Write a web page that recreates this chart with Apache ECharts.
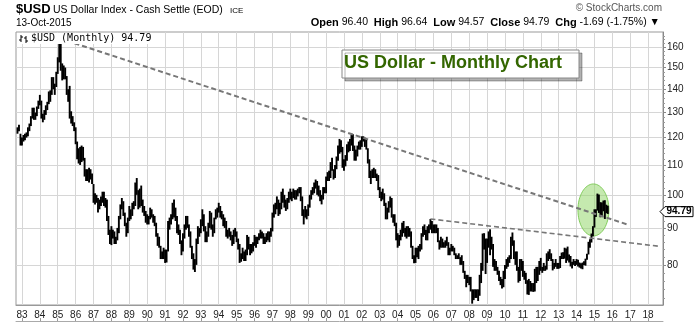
<!DOCTYPE html>
<html>
<head>
<meta charset="utf-8">
<script src="https://cdn.jsdelivr.net/npm/echarts@6/dist/echarts.min.js"></script>
<style>
  html, body { margin: 0; padding: 0; background: #fff; }
  #main { width: 700px; height: 322px; }
</style>
</head>
<body>
<div id="main"></div>
<script>
// US Dollar Index, monthly bars (high / low), Oct 1982 - Oct 2015
const firstMonth = '1982-10';

const monthlyHigh = [
  124.0, 125.0, 121.5,                                                            // 1982 Oct-Dec
  120.0, 121.0, 121.5, 122.0, 124.0, 125.5, 128.5, 132.0, 132.0, 130.0, 132.5, 135.0, // 1983
  137.5, 135.0, 129.5, 131.0, 133.0, 134.5, 139.0, 139.5, 145.5, 145.5, 142.5, 148.0, // 1984
  155.0, 164.7, 163.0, 152.0, 151.0, 150.0, 146.0, 140.0, 141.5, 130.5, 128.5, 126.0, // 1985
  124.0, 118.5, 116.0, 116.5, 117.0, 116.5, 112.5, 108.5, 108.5, 109.0, 108.5, 107.0, // 1986
  103.5, 100.5, 100.0, 99.0, 98.5, 99.5, 101.0, 101.0, 99.0, 98.5, 93.5, 89.5,       // 1987
  90.5, 89.5, 89.0, 87.5, 90.0, 93.5, 97.0, 99.0, 98.0, 94.5, 91.5, 93.0,            // 1988
  96.5, 95.5, 97.5, 98.0, 104.0, 105.5, 101.5, 102.0, 103.0, 98.5, 96.5, 95.0,       // 1989
  94.0, 93.5, 96.0, 95.5, 94.0, 93.5, 91.5, 88.5, 87.5, 85.0, 83.5, 84.5,            // 1990
  84.0, 84.0, 92.0, 93.0, 94.0, 97.5, 98.5, 96.0, 93.5, 91.0, 89.5, 86.5,            // 1991
  88.5, 91.0, 93.5, 93.5, 91.0, 89.0, 85.0, 83.0, 81.5, 87.0, 90.5, 90.0,            // 1992
  92.5, 95.5, 94.0, 90.5, 89.0, 91.5, 95.0, 94.5, 91.0, 93.0, 95.5, 96.0,            // 1993
  97.5, 96.5, 95.0, 94.0, 93.0, 92.0, 89.5, 90.0, 89.0, 88.0, 89.5, 90.0,            // 1994
  89.0, 87.0, 85.5, 83.0, 84.5, 83.5, 84.0, 88.0, 87.5, 85.5, 85.5, 86.0,            // 1995
  88.0, 87.5, 87.5, 88.5, 89.5, 89.0, 88.5, 87.5, 88.5, 89.0, 89.0, 90.0,            // 1996
  94.5, 97.0, 97.5, 99.5, 98.5, 97.5, 101.0, 102.0, 100.0, 98.5, 99.0, 101.0,        // 1997
  102.0, 101.0, 102.0, 101.5, 101.5, 102.0, 102.5, 102.5, 99.5, 95.5, 96.5, 95.5,    // 1998
  97.0, 100.0, 101.5, 102.5, 104.0, 105.0, 104.5, 103.0, 101.5, 100.0, 102.5, 102.5, // 1999
  106.0, 107.5, 108.0, 111.0, 112.5, 108.5, 110.0, 113.0, 117.0, 119.5, 119.0, 116.5, // 2000
  112.0, 113.5, 117.5, 118.5, 119.5, 121.0, 121.3, 117.0, 115.5, 117.0, 118.5, 119.0, // 2001
  120.5, 120.5, 120.0, 119.5, 116.0, 112.0, 108.0, 108.5, 109.0, 108.5, 107.0, 106.5, // 2002
  102.5, 101.0, 102.0, 100.5, 97.5, 96.0, 98.0, 99.5, 99.0, 94.0, 94.0, 91.5,        // 2003
  88.5, 88.0, 89.5, 91.5, 92.0, 90.0, 90.5, 90.5, 90.0, 89.0, 85.0, 82.5,            // 2004
  84.5, 84.5, 85.0, 85.5, 88.5, 90.5, 91.0, 89.5, 90.5, 91.0, 92.6, 92.0,            // 2005
  91.0, 91.0, 91.0, 90.0, 86.5, 87.5, 87.0, 86.0, 86.5, 87.5, 86.0, 84.5,            // 2006
  85.5, 85.0, 84.5, 83.0, 82.5, 83.0, 82.0, 82.5, 81.0, 78.5, 77.5, 77.5,            // 2007
  77.0, 77.0, 74.0, 74.0, 74.0, 74.0, 74.0, 77.5, 80.5, 88.4, 88.5, 87.0,            // 2008
  87.0, 89.0, 89.6, 87.5, 85.5, 81.5, 81.0, 79.5, 78.5, 77.0, 76.5, 78.5,            // 2009
  80.0, 81.5, 82.0, 82.5, 87.5, 88.7, 86.5, 83.5, 83.5, 79.5, 81.5, 81.5,            // 2010
  81.0, 78.5, 78.0, 76.2, 76.5, 76.0, 75.5, 75.5, 79.0, 79.5, 79.5, 81.0,            // 2011
  81.8, 79.5, 80.5, 79.8, 83.0, 83.5, 84.1, 83.0, 81.5, 80.5, 81.5, 80.5,            // 2012
  80.5, 82.3, 83.2, 83.3, 84.5, 84.3, 84.8, 82.7, 82.3, 80.8, 81.5, 81.0,            // 2013
  81.5, 81.3, 80.6, 80.4, 80.6, 80.9, 81.6, 82.9, 86.1, 86.8, 88.4, 90.5,            // 2014
  95.5, 95.5, 100.4, 100.1, 97.7, 97.6, 98.2, 98.3, 96.9, 96.6                       // 2015 Jan-Oct
];

const monthlyLow = [
  121.5, 122.5, 117.0,                                                            // 1982 Oct-Dec
  117.0, 118.5, 119.0, 120.0, 120.5, 122.5, 124.5, 127.5, 127.0, 127.0, 128.5, 131.5, // 1983
  133.0, 127.5, 126.0, 127.0, 129.0, 131.0, 133.5, 134.5, 137.5, 140.0, 137.5, 141.0, // 1984
  147.0, 152.5, 148.5, 144.0, 144.5, 144.5, 137.5, 134.5, 127.5, 125.5, 124.5, 122.5, // 1985
  117.5, 112.0, 110.5, 110.0, 111.0, 111.5, 106.0, 104.5, 104.5, 104.0, 105.0, 103.5, // 1986
  97.5, 97.0, 97.5, 94.5, 95.5, 96.5, 97.5, 96.5, 96.0, 92.0, 88.0, 85.5,            // 1987
  85.2, 87.0, 85.5, 85.5, 86.5, 88.5, 92.5, 95.5, 93.5, 90.5, 87.5, 88.5,            // 1988
  92.0, 92.5, 93.5, 95.5, 96.5, 100.0, 95.5, 96.0, 96.5, 94.5, 93.5, 91.5,           // 1989
  91.0, 91.0, 92.5, 93.0, 91.5, 90.5, 87.5, 85.0, 84.5, 81.5, 81.5, 81.5,            // 1990
  80.5, 80.6, 83.5, 89.5, 91.0, 92.5, 93.0, 92.0, 88.5, 88.0, 85.5, 82.5,            // 1991
  83.5, 87.0, 89.5, 90.0, 87.5, 84.5, 81.5, 78.8, 78.2, 80.0, 85.5, 87.5,            // 1992
  88.5, 90.5, 89.0, 86.0, 86.0, 87.5, 90.0, 89.5, 87.5, 88.5, 92.5, 93.0,            // 1993
  94.5, 93.0, 92.5, 90.5, 90.0, 87.5, 87.0, 87.5, 86.5, 85.0, 85.5, 87.5,            // 1994
  86.0, 84.0, 80.5, 80.8, 81.5, 81.0, 81.0, 82.5, 84.0, 82.5, 83.0, 83.5,            // 1995
  85.0, 84.5, 85.5, 86.5, 87.0, 87.0, 85.5, 85.5, 86.0, 86.5, 86.0, 87.5,            // 1996
  89.0, 93.0, 94.0, 95.5, 93.5, 94.0, 95.5, 97.5, 96.0, 95.0, 95.5, 97.5,            // 1997
  98.5, 98.0, 99.0, 98.5, 98.5, 99.5, 100.5, 98.0, 93.5, 91.0, 93.0, 92.5,           // 1998
  93.5, 96.0, 98.5, 100.0, 100.5, 102.0, 100.0, 99.5, 98.0, 97.0, 98.5, 100.5,       // 1999
  100.5, 104.5, 104.5, 105.5, 108.0, 105.0, 105.5, 108.5, 111.5, 114.0, 114.5, 109.0, // 2000
  108.0, 109.5, 111.5, 114.5, 115.0, 117.0, 115.0, 111.5, 111.5, 113.0, 115.5, 115.5, // 2001
  116.5, 118.5, 116.5, 115.5, 110.5, 105.5, 103.5, 105.5, 105.5, 105.5, 104.5, 101.5, // 2002
  99.0, 98.0, 98.5, 96.5, 92.5, 92.5, 94.5, 96.0, 93.0, 91.5, 90.5, 86.5,            // 2003
  84.5, 85.0, 86.5, 87.5, 88.5, 87.5, 87.0, 87.5, 87.5, 84.5, 81.5, 80.4,            // 2004
  80.5, 82.0, 81.5, 83.5, 84.0, 87.5, 88.0, 86.5, 86.5, 88.5, 89.5, 88.5,            // 2005
  88.5, 88.5, 88.5, 86.0, 84.0, 84.5, 84.5, 84.5, 84.5, 85.0, 82.5, 82.5,            // 2006
  83.5, 83.5, 82.5, 81.5, 81.5, 81.5, 80.0, 80.0, 78.0, 76.5, 74.5, 75.5,            // 2007
  75.0, 73.5, 70.7, 71.5, 72.0, 72.0, 71.3, 72.5, 75.5, 78.5, 84.0, 77.7,            // 2008
  80.5, 84.5, 82.5, 84.0, 79.5, 78.5, 78.5, 77.5, 76.0, 75.0, 74.2, 74.5,            // 2009
  76.5, 79.0, 79.5, 80.5, 81.5, 85.0, 81.5, 80.0, 78.5, 75.6, 76.0, 78.5,            // 2010
  77.0, 76.3, 75.3, 72.8, 72.7, 73.5, 73.5, 73.4, 73.5, 75.5, 76.0, 77.5,            // 2011
  78.5, 78.0, 78.5, 78.5, 78.8, 81.0, 81.5, 81.0, 78.6, 79.0, 79.5, 79.0,            // 2012
  79.0, 79.2, 81.5, 81.5, 81.6, 80.5, 81.1, 80.6, 79.6, 79.1, 80.0, 79.7,            // 2013
  80.0, 79.6, 79.3, 79.1, 78.9, 80.0, 79.8, 81.3, 82.7, 84.5, 85.9, 87.6,            // 2014
  90.1, 93.2, 95.1, 94.4, 93.1, 93.5, 94.9, 92.6, 94.3, 94.1                         // 2015 Jan-Oct
];

const lastClose = 94.79;

// price-axis labels and the small intermediate ticks
const priceTicks = [80, 90, 100, 110, 120, 130, 140, 150, 160];
const minorTicks = [72, 74, 76, 78, 82, 84, 86, 88, 92, 94, 96, 98, 102, 104, 106, 108,
  112, 114, 116, 118, 122, 124, 126, 128, 132, 134, 136, 138, 142, 144, 146, 148,
  152, 154, 156, 158, 162, 164, 166];

// hand-drawn trendlines: [month, price] end points
const upperTrend = [['1985-02', 164.7], ['2016-11', 91.0]];
const lowerTrend = [['2005-11', 92.6], ['2018-08', 84.9]];

// month categories spanning the visible time axis
const axisFirst = [1982, 9], axisLast = [2018, 11];
const months = [];
for (let y = axisFirst[0], m = axisFirst[1]; y < axisLast[0] || (y === axisLast[0] && m <= axisLast[1]);) {
  months.push(y + '-' + String(m).padStart(2, '0'));
  m++; if (m > 12) { m = 1; y++; }
}
const monthIndex = s => months.indexOf(s);
const offset = monthIndex(firstMonth);
const barData = monthlyHigh.map((h, i) => [offset + i, monthlyLow[i], h]);
const isJanuary = (i, v) => String(v).endsWith('-01');

const gridColor = '#d6d6d6';
const yMin = 70.4, yMax = 168;
const font = "'Liberation Sans', Arial, sans-serif";

const chart = echarts.init(document.getElementById('main'));
chart.setOption({
  animation: false,
  backgroundColor: '#fff',
  grid: { left: 16, top: 32, right: 37, bottom: 17, show: true, borderColor: '#999', borderWidth: 1, backgroundColor: '#fff' },
  xAxis: [{
    type: 'category', data: months, boundaryGap: false,
    axisLine: { show: true, lineStyle: { color: '#999' } },
    axisTick: { show: false },
    axisLabel: { interval: isJanuary, formatter: v => v.slice(2, 4), color: '#222', fontSize: 10, fontFamily: font, margin: 5 },
    splitLine: { show: true, interval: isJanuary, lineStyle: { color: gridColor, width: 1 } }
  }, {
    type: 'category', data: months, boundaryGap: false, position: 'bottom', offset: 16,
    axisLine: { show: true, lineStyle: { color: '#aaa' } },
    axisTick: { show: true, inside: true, length: 3, interval: isJanuary, lineStyle: { color: '#999' } },
    axisLabel: { show: false }, splitLine: { show: false }
  }],
  yAxis: [{
    type: 'log', logBase: 10, min: yMin, max: yMax, position: 'right',
    axisLine: { show: true, lineStyle: { color: '#888' } },
    axisTick: { show: true, length: 3, customValues: priceTicks, lineStyle: { color: '#888' } },
    axisLabel: { customValues: priceTicks, color: '#222', fontSize: 10, fontFamily: font, margin: 4, formatter: v => String(Math.round(v)) },
    splitLine: { show: true, lineStyle: { color: gridColor } }
  }, {
    type: 'log', logBase: 10, min: yMin, max: yMax, position: 'right',
    axisLine: { show: false },
    axisTick: { show: true, length: 2, customValues: minorTicks, lineStyle: { color: '#999' } },
    axisLabel: { show: false }, splitLine: { show: false }
  }],
  series: [{
    type: 'custom',
    name: '$USD',
    data: barData,
    encode: { x: 0, y: [1, 2] },
    z: 3,
    renderItem: (params, api) => {
      const x = api.value(0);
      const lo = api.coord([x, api.value(1)]);
      const hi = api.coord([x, api.value(2)]);
      return { type: 'line', shape: { x1: lo[0], y1: lo[1], x2: hi[0], y2: hi[1] }, style: { stroke: '#000', lineWidth: 1.9 } };
    }
  }, {
    type: 'line', data: upperTrend.map(p => [monthIndex(p[0]), p[1]]), symbol: 'none', z: 4,
    lineStyle: { color: '#777', width: 2, type: [5, 3] }
  }, {
    type: 'line', data: lowerTrend.map(p => [monthIndex(p[0]), p[1]]), symbol: 'none', z: 4,
    lineStyle: { color: '#777', width: 1.6, type: [5, 3] }
  }]
});

// annotations: header, legend, title box, highlight ellipse, last-price tag
const ell = chart.convertToPixel({ xAxisIndex: 0, yAxisIndex: 0 }, [monthIndex('2015-01'), 95.3]);
const tagY = chart.convertToPixel({ yAxisIndex: 0 }, lastClose);
const tagX = 660;

chart.setOption({
  graphic: [
    { type: 'text', left: 16, top: 3, style: { text: '$USD', font: 'bold 13px ' + font, fill: '#000' } },
    { type: 'text', left: 53, top: 5, style: { text: 'US Dollar Index - Cash Settle (EOD)', font: '10.5px ' + font, fill: '#000' } },
    { type: 'text', left: 230, top: 7, style: { text: 'ICE', font: '8px ' + font, fill: '#000' } },
    { type: 'text', left: 16, top: 18, style: { text: '13-Oct-2015', font: '10px ' + font, fill: '#000' } },
    { type: 'text', right: 38, top: 3, style: { text: '\u00a9 StockCharts.com', font: '10px ' + font, fill: '#555' } },
    {
      type: 'text', right: 40, top: 17,
      style: {
        text: '{b|Open} 96.40  {b|High} 96.64  {b|Low} 94.57  {b|Close} 94.79  {b|Chg} -1.69 (-1.75%) \u25BC',
        font: '10.5px ' + font, fill: '#000',
        rich: { b: { fontWeight: 'bold', fontSize: 11, fontFamily: font } }
      }
    },
    // legend inside the plot
    { type: 'rect', shape: { x: 17, y: 33, width: 138, height: 11 }, style: { fill: '#fff' }, z: 10 },
    { type: 'line', shape: { x1: 21, y1: 35, x2: 21, y2: 42 }, style: { stroke: '#000', lineWidth: 1 }, z: 11 },
    { type: 'line', shape: { x1: 19, y1: 40, x2: 21, y2: 40 }, style: { stroke: '#000', lineWidth: 1 }, z: 11 },
    { type: 'line', shape: { x1: 21, y1: 37, x2: 23, y2: 37 }, style: { stroke: '#000', lineWidth: 1 }, z: 11 },
    { type: 'line', shape: { x1: 26, y1: 36, x2: 26, y2: 43 }, style: { stroke: '#000', lineWidth: 1 }, z: 11 },
    { type: 'line', shape: { x1: 24, y1: 38, x2: 26, y2: 38 }, style: { stroke: '#000', lineWidth: 1 }, z: 11 },
    { type: 'line', shape: { x1: 26, y1: 41, x2: 28, y2: 41 }, style: { stroke: '#000', lineWidth: 1 }, z: 11 },
    { type: 'text', left: 31, top: 33, z: 11, style: { text: '$USD (Monthly) ' + lastClose.toFixed(2), font: "10px 'DejaVu Sans Mono', monospace", fill: '#000' } },
    // title box
    {
      type: 'rect', shape: { x: 342, y: 50, width: 237, height: 28 }, z: 10,
      style: { fill: '#fff', stroke: '#888', lineWidth: 1, shadowColor: 'rgba(0,0,0,0.3)', shadowOffsetX: 3, shadowOffsetY: 3, shadowBlur: 0 }
    },
    { type: 'text', left: 344, top: 54, z: 11, style: { text: 'US Dollar - Monthly Chart', font: 'bold 18px ' + font, fill: '#336600' } },
    // highlight around the 2015 breakout
    {
      type: 'ellipse', z: 1,
      shape: { cx: ell[0] - 1, cy: ell[1], rx: 15.5, ry: 26 },
      style: { fill: 'rgba(150, 215, 110, 0.55)', stroke: 'rgba(120, 200, 80, 0.9)', lineWidth: 1 }
    },
    // last price tag on the price axis
    {
      type: 'polygon', z: 10,
      shape: { points: [[tagX, tagY], [tagX + 5, tagY - 5], [tagX + 33, tagY - 5], [tagX + 33, tagY + 5], [tagX + 5, tagY + 5]] },
      style: { fill: '#fff', stroke: '#000', lineWidth: 1 }
    },
    { type: 'text', x: tagX + 19, y: tagY, z: 11, style: { text: lastClose.toFixed(2), font: 'bold 10px ' + font, fill: '#000', align: 'center', verticalAlign: 'middle' } }
  ]
});
</script>
</body>
</html>
